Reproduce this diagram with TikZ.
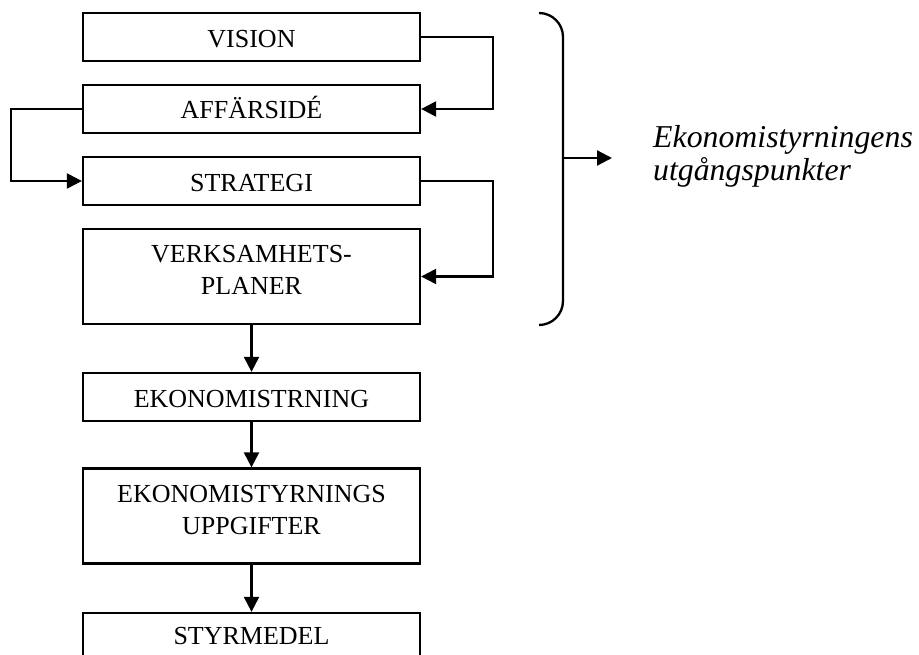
\documentclass[tikz,border=0pt]{standalone}
\usepackage{fontspec}
\setmainfont{Liberation Serif}
\usetikzlibrary{arrows.meta}
\begin{document}
\begin{tikzpicture}[x=1pt,y=-1pt,
  box/.style={draw, line width=2.3pt, minimum width=337pt, inner sep=0pt},
  one/.style={box, minimum height=48pt},
  two/.style={box, minimum height=95pt},
  lbl/.style={inner sep=0pt, anchor=base, align=center,
    font=\fontsize{26}{32.3}\selectfont},
  conn/.style={line width=2.3pt, -{Triangle[length=15pt,width=15pt]}},
]
\useasboundingbox (0,0) rectangle (919,655);
\clip (0,0) rectangle (919,655);

% boxes of the chain
\node[one] (vis)   at (251.5,37)    {};
\node[one] (aff)   at (251.5,109)   {};
\node[one] (strat) at (251.5,181)   {};
\node[two] (verk)  at (251.5,276.5) {};
\node[one] (ekon)  at (251.5,397)   {};
\node[two] (upp)   at (251.5,516)   {};
\node[one] (styr)  at (251.5,637)   {};

% box texts, placed on their (last) baselines
\node[lbl] (visT)   at ([yshift=-36pt]vis.north)     {VISION};
\node[lbl] (affT)   at ([yshift=-35pt]aff.north)     {AFFÄRSIDÉ};
\node[lbl] (stratT) at ([yshift=-35.5pt]strat.north) {STRATEGI};
\node[lbl] (verkT)  at ([yshift=-66.7pt]verk.north)  {VERKSAMHETS-\\PLANER};
\node[lbl] (ekonT)  at ([yshift=-35.5pt]ekon.north)  {EKONOMISTRNING};
\node[lbl] (uppT)   at ([yshift=-67pt]upp.north)     {EKONOMISTYRNINGS\\UPPGIFTER};
\node[lbl] (styrT)  at ([yshift=-33pt]styr.north)    {STYRMEDEL};

% feedback connectors on the sides
\draw[conn] (vis.east) -- ++(72,0) |- (aff.east);
\draw[conn] (aff.west) -- ++(-71,0) |- (strat.west);
\draw[conn] (strat.east) -- ++(72,0) |- (verk.east);

% downward flow
\draw[conn] (verk.south) -- (ekon.north);
\draw[conn] (ekon.south) -- (upp.north);
\draw[conn] (upp.south) -- (styr.north);

% brace over the first four boxes and its outcome
\draw[line width=2.3pt, rounded corners=24pt]
  (539,13) -- (563,13) -- (563,325) -- (539,325);
\coordinate (brace) at (563,158);
\coordinate (tipend) at (612,158);
\draw[conn] (brace) -- (tipend);

\node[inner sep=0pt, anchor=base west, align=left,
  font=\itshape\fontsize{31.8}{33}\selectfont] (utg) at (653,181)
  {Ekonomistyrningens\\utgångspunkter};
\end{tikzpicture}
\end{document}
